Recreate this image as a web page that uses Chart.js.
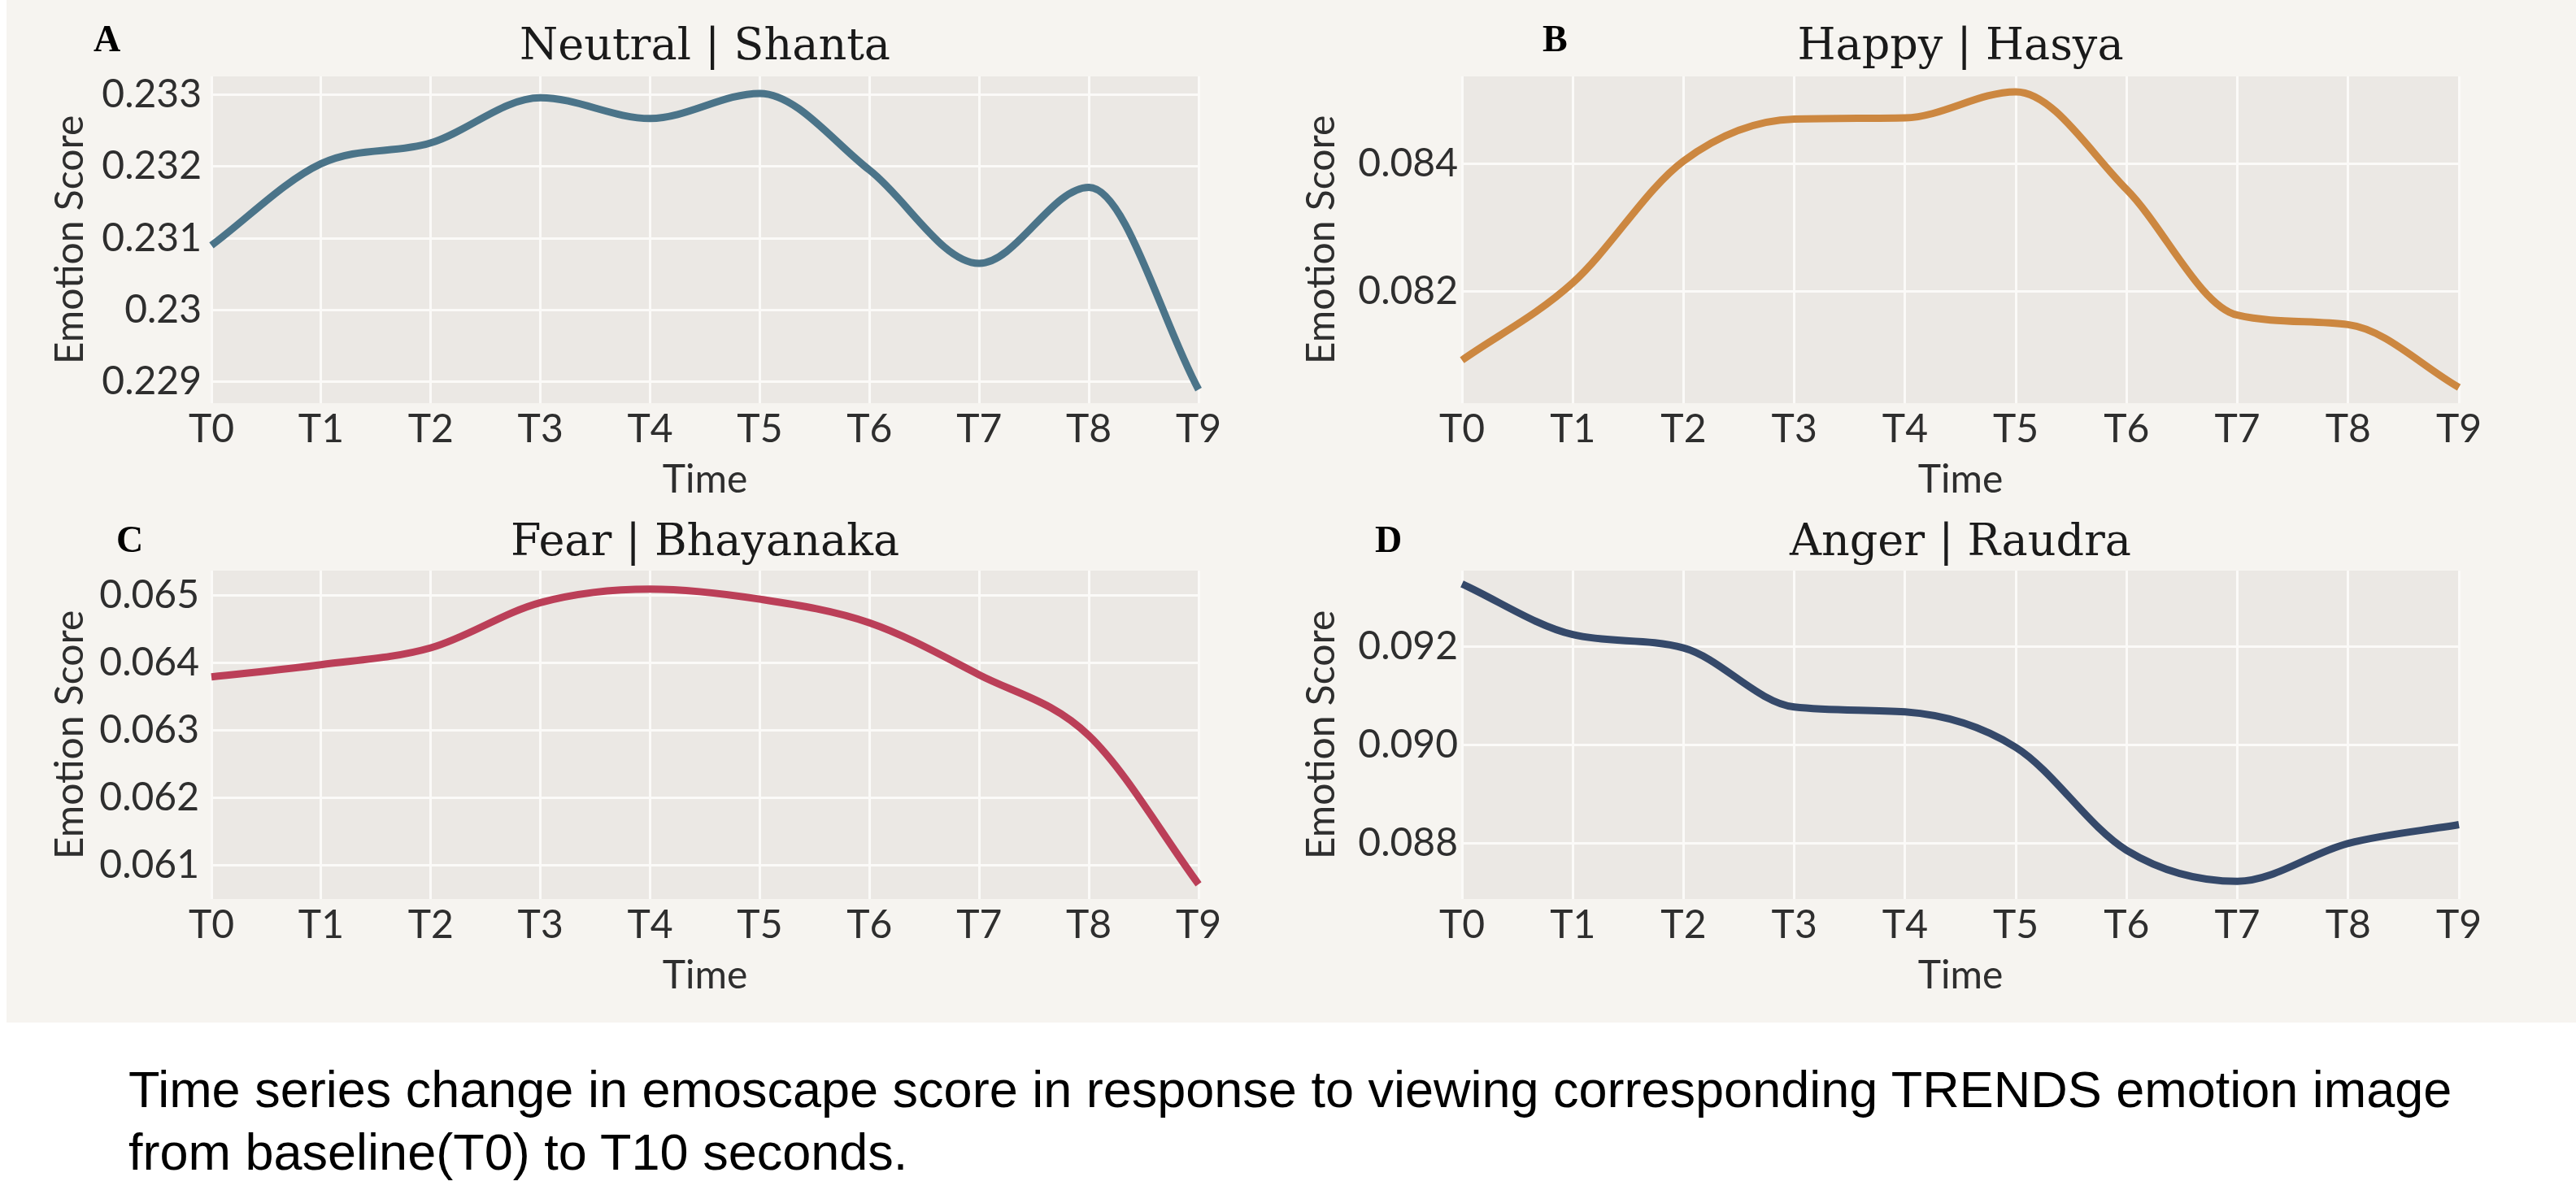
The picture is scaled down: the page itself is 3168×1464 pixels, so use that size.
<!DOCTYPE html>
<html>
<head>
<meta charset="utf-8">
<script src="https://cdn.jsdelivr.net/npm/chart.js@4.4.1/dist/chart.umd.min.js"></script>
<style>
html,body{margin:0;padding:0;background:#ffffff;width:3168px;height:1464px;overflow:hidden}
#fig{position:absolute;left:8px;top:0;width:3160px;height:1258px;background:#f6f4f0}
canvas{position:absolute}
#cap{position:absolute;left:158px;top:1302px;font-family:"Liberation Sans",Arial,sans-serif;font-size:63px;line-height:77px;color:#000;white-space:nowrap}
</style>
</head>
<body>
<div id="fig"></div>
<canvas id="cA" width="1584" height="620" style="left:0px;top:0px;width:1584px;height:620px"></canvas>
<canvas id="cB" width="1584" height="620" style="left:1584px;top:0px;width:1584px;height:620px"></canvas>
<canvas id="cC" width="1584" height="622" style="left:0px;top:608px;width:1584px;height:622px"></canvas>
<canvas id="cD" width="1584" height="622" style="left:1584px;top:608px;width:1584px;height:622px"></canvas>
<div id="cap">Time series change in emoscape score in response to viewing corresponding TRENDS emotion image<br>from baseline(T0) to T10 seconds.</div>
<script>
// ---- data ----
const timeLabels = ['T0','T1','T2','T3','T4','T5','T6','T7','T8','T9'];

const neutralShanta = [0.23090, 0.23204, 0.23233, 0.23296, 0.23267, 0.23302, 0.23195, 0.23065, 0.23171, 0.22889];
const happyHasya    = [0.08091, 0.08213, 0.08405, 0.08471, 0.08473, 0.08514, 0.08360, 0.08162, 0.08147, 0.08048];
const fearBhayanaka = [0.06379, 0.06397, 0.06422, 0.06489, 0.06509, 0.06494, 0.06459, 0.06382, 0.06292, 0.06072];
const angerRaudra   = [0.09327, 0.09224, 0.09197, 0.09077, 0.09067, 0.08995, 0.08786, 0.08723, 0.08800, 0.08838];

const neutralTicks = [0.229, 0.230, 0.231, 0.232, 0.233];
const neutralTickLabels = ['0.229', '0.23', '0.231', '0.232', '0.233'];
const happyTicks = [0.082, 0.084];
const happyTickLabels = ['0.082', '0.084'];
const fearTicks = [0.061, 0.062, 0.063, 0.064, 0.065];
const fearTickLabels = ['0.061', '0.062', '0.063', '0.064', '0.065'];
const angerTicks = [0.088, 0.090, 0.092];
const angerTickLabels = ['0.088', '0.090', '0.092'];

// ---- helpers ----
const panelText = {
  id: 'panelText',
  beforeDraw(chart, args, o) {
    const {ctx, chartArea: ca} = chart;
    ctx.save();
    ctx.fillStyle = '#ebe8e4';
    ctx.fillRect(ca.left, ca.top, ca.right - ca.left, ca.bottom - ca.top);
    ctx.restore();
  },
  afterDraw(chart, args, o) {
    const {ctx, chartArea: ca} = chart;
    ctx.save();
    ctx.fillStyle = '#1a1a1a';
    ctx.font = '54px "DejaVu Serif", serif';
    ctx.textAlign = 'center';
    ctx.textBaseline = 'alphabetic';
    ctx.fillText(o.title, (ca.left + ca.right) / 2, o.titleY);
    ctx.fillStyle = '#000';
    ctx.font = 'bold 46px "Liberation Serif", serif';
    ctx.textAlign = 'left';
    ctx.fillText(o.letter, o.letterX, o.letterY);
    ctx.restore();
  }
};

const tickFont = {family: 'Lato', size: 48};
const gridStyle = {color: '#fbfaf8', lineWidth: 3, drawTicks: false};

function makeChart(id, values, color, yMin, yMax, ticksArr, tickLabels, o) {
  return new Chart(document.getElementById(id), {
    type: 'line',
    data: {
      labels: timeLabels,
      datasets: [{
        data: values,
        borderColor: color,
        borderWidth: 9,
        pointRadius: 0,
        fill: false,
        cubicInterpolationMode: 'monotone'
      }]
    },
    options: {
      responsive: false,
      animation: false,
      layout: {padding: {left: 0, top: o.padTop, right: o.padRight, bottom: 0}},
      plugins: {
        legend: {display: false},
        tooltip: {enabled: false},
        panelText: {title: o.title, titleY: o.titleY, letter: o.letter, letterX: o.letterX, letterY: o.letterY}
      },
      scales: {
        x: {
          offset: false,
          grid: gridStyle,
          border: {display: false},
          ticks: {color: '#2e2e2e', font: tickFont, padding: 4, maxRotation: 0, autoSkip: false},
          title: {display: true, text: 'Time', color: '#2e2e2e', font: tickFont, padding: {top: 0, bottom: 1}},
          afterFit(s) { s.height = 124; }
        },
        y: {
          min: yMin,
          max: yMax,
          grid: gridStyle,
          border: {display: false},
          afterBuildTicks(s) { s.ticks = ticksArr.map(v => ({value: v})); },
          ticks: {color: '#2e2e2e', font: tickFont, padding: o.tickPad, callback: (v, i) => tickLabels[i]},
          title: {display: true, text: 'Emotion Score', color: '#2e2e2e', font: tickFont, padding: {top: o.yTitlePad, bottom: 0}},
          afterFit(s) { s.width = o.yWidth; }
        }
      }
    },
    plugins: [panelText]
  });
}

makeChart('cA', neutralShanta, '#4b7489', 0.228700, 0.233257, neutralTicks, neutralTickLabels,
  {padTop: 94, padRight: 110, yWidth: 260, tickPad: 12, yTitlePad: 58,
   title: 'Neutral | Shanta', titleY: 73, letter: 'A', letterX: 115, letterY: 63});

makeChart('cB', happyHasya, '#cc8740', 0.080232, 0.085383, happyTicks, happyTickLabels,
  {padTop: 94, padRight: 144, yWidth: 214, tickPad: 5, yTitlePad: 13,
   title: 'Happy | Hasya', titleY: 73, letter: 'B', letterX: 313, letterY: 63});

makeChart('cC', fearBhayanaka, '#bb3f58', 0.060501, 0.065363, fearTicks, fearTickLabels,
  {padTop: 94, padRight: 110, yWidth: 260, tickPad: 15, yTitlePad: 58,
   title: 'Fear | Bhayanaka', titleY: 75, letter: 'C', letterX: 143, letterY: 71});

makeChart('cD', angerRaudra, '#35496a', 0.08687, 0.09354, angerTicks, angerTickLabels,
  {padTop: 94, padRight: 144, yWidth: 214, tickPad: 5, yTitlePad: 13,
   title: 'Anger | Raudra', titleY: 75, letter: 'D', letterX: 107, letterY: 71});
</script>
</body>
</html>
